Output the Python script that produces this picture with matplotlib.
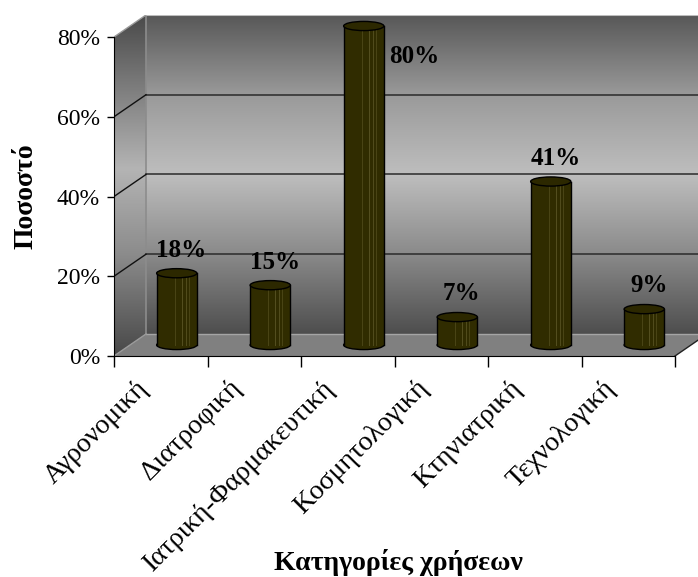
import numpy as np
import matplotlib
matplotlib.use("Agg")
from matplotlib import pyplot as plt
from matplotlib.patches import Polygon, Rectangle, Ellipse
from matplotlib.colors import LinearSegmentedColormap
from matplotlib.transforms import ScaledTranslation

categories = ["Αγρονομική", "Διατροφική", "Ιατρική-Φαρμακευτική",
              "Κοσμητολογική", "Κτηνιατρική", "Τεχνολογική"]
values = [18, 15, 80, 7, 41, 9]
y_ticks = [0, 20, 40, 60, 80]
y_tick_labels = ["0%", "20%", "40%", "60%", "80%"]
x_title = "Κατηγορίες χρήσεων"
y_title = "Ποσοστό"

plt.rcParams['font.family'] = ['Liberation Serif', 'DejaVu Serif']

n = len(categories)
ymax = 80
DX = 0.342   # depth offset in category units
DY = 5.52    # depth offset in percent units
W = 0.43     # cylinder width
EH = 2.3     # ellipse height

fig = plt.figure(figsize=(6.98, 5.77), dpi=100)
# axes holds the front plane plus the depth of the walls
ax = fig.add_axes([114 / 698, 221 / 577, 593 / 698, 341 / 577])

wall_cmap = LinearSegmentedColormap.from_list(
    "wall", [(0, "#4e4e4e"), (0.25, "#8a8a8a"), (0.5, "#bebebe"),
             (0.75, "#9a9a9a"), (1.0, "#585858")])
side_cmap = LinearSegmentedColormap.from_list(
    "side", [(0, "#484848"), (0.3, "#8c8c8c"), (0.55, "#b4b4b4"),
             (0.8, "#7a7a7a"), (1.0, "#4a4a4a")])
grad = np.linspace(0, 1, 256).reshape(-1, 1)

# back wall
ax.imshow(grad, cmap=wall_cmap, origin="lower", aspect="auto",
          extent=[DX, n + DX, DY, ymax + DY], zorder=0)

# side wall
side = Polygon([(0, 0), (DX, DY), (DX, ymax + DY), (0, ymax)],
               closed=True, facecolor="none", edgecolor="none")
ax.add_patch(side)
im = ax.imshow(grad, cmap=side_cmap, origin="lower", aspect="auto",
               extent=[0, DX, 0, ymax + DY], zorder=1)
im.set_clip_path(side)

floor = Polygon([(0, 0), (n, 0), (n + DX, DY), (DX, DY)], closed=True,
                facecolor="#808080", edgecolor="none", zorder=1)
ax.add_patch(floor)

# wall edges
ax.plot([DX, DX], [DY, ymax + DY], color="#8c8c8c", lw=1.2, zorder=2)
ax.plot([DX, n + DX], [ymax + DY, ymax + DY], color="#bdbdbd", lw=1.5, zorder=2)
ax.plot([DX, n + DX], [DY, DY], color="#a5a5a5", lw=1.0, zorder=2)
ax.plot([0, DX], [ymax, ymax + DY], color="#9a9a9a", lw=1.0, zorder=2)
ax.plot([n, n + DX], [0, DY], color="#222222", lw=1.0, zorder=2)
ax.plot([0, DX], [0, DY], color="#9a9a9a", lw=1.0, zorder=2)

# gridlines
for t in y_ticks[1:-1]:
    ax.plot([DX, n + DX], [t + DY, t + DY], color="#2a2a2a", lw=1.1, zorder=2)
    ax.plot([0, DX], [t, t + DY], color="#111111", lw=1.0, zorder=2)

# cylinders
body_col = "#302c00"
streak_col = "#7a7440"
for i, v in enumerate(values):
    cx = i + 0.5 + DX / 2
    base = DY / 2
    top = v + DY / 2
    ax.add_patch(Ellipse((cx, base), W, EH, facecolor=body_col,
                         edgecolor="black", lw=1.0, zorder=3))
    ax.add_patch(Rectangle((cx - W / 2, base), W, v, facecolor=body_col,
                           edgecolor="none", zorder=3))
    for f, a in [(-0.05, 0.35), (0.12, 0.5), (0.22, 0.45), (0.3, 0.35)]:
        ax.plot([cx + f * W, cx + f * W], [base, top], color=streak_col,
                lw=0.7, alpha=a, zorder=3)
    ax.plot([cx - W / 2, cx - W / 2], [base, top], color="black", lw=1.0, zorder=3)
    ax.plot([cx + W / 2, cx + W / 2], [base, top], color="black", lw=1.0, zorder=3)
    ax.add_patch(Ellipse((cx, top), W, EH, facecolor="#2c2800",
                         edgecolor="black", lw=1.0, zorder=4))
    label = f"{v}%"
    if top + 5.8 > ymax:
        ax.text(cx + W / 2 + 0.33, ymax - 5, label, ha="center", va="center",
                fontsize=18, fontweight="bold", zorder=5)
    else:
        ax.text(cx + 0.05, top + 5.8, label, ha="center", va="center",
                fontsize=18, fontweight="bold", zorder=5)

ax.set_xlim(0, n + DX)
ax.set_ylim(0, ymax + DY)

for s in ["top", "right"]:
    ax.spines[s].set_visible(False)
ax.spines["left"].set_bounds(0, ymax)
ax.spines["bottom"].set_bounds(0, n)
ax.spines["left"].set_zorder(6)
ax.spines["bottom"].set_zorder(6)

ax.set_yticks(y_ticks)
ax.set_yticklabels(y_tick_labels, fontsize=17)
ax.tick_params(axis="y", direction="out", length=5, width=1, pad=5)

ax.set_xticks(np.arange(n + 1))
ax.set_xticklabels([])
ax.tick_params(axis="x", which="major", direction="out", length=8, width=1)
ax.set_xticks(np.arange(n) + 0.5, minor=True)
ax.set_xticklabels(categories, minor=True, rotation=45, ha="right",
                   va="top", fontsize=20)
ax.tick_params(axis="x", which="minor", length=0, pad=14)
for lab in ax.get_xticklabels(minor=True):
    lab.set_transform(lab.get_transform() + ScaledTranslation(-0.08, 0, fig.dpi_scale_trans))

ax.set_ylabel(y_title, fontsize=20, fontweight="bold")
ax.yaxis.set_label_coords(-0.128, 0.469)
ax.set_xlabel(x_title, fontsize=20, fontweight="bold")
ax.xaxis.set_label_coords(0.48, -0.566)

fig.savefig("out.png", dpi=100)
